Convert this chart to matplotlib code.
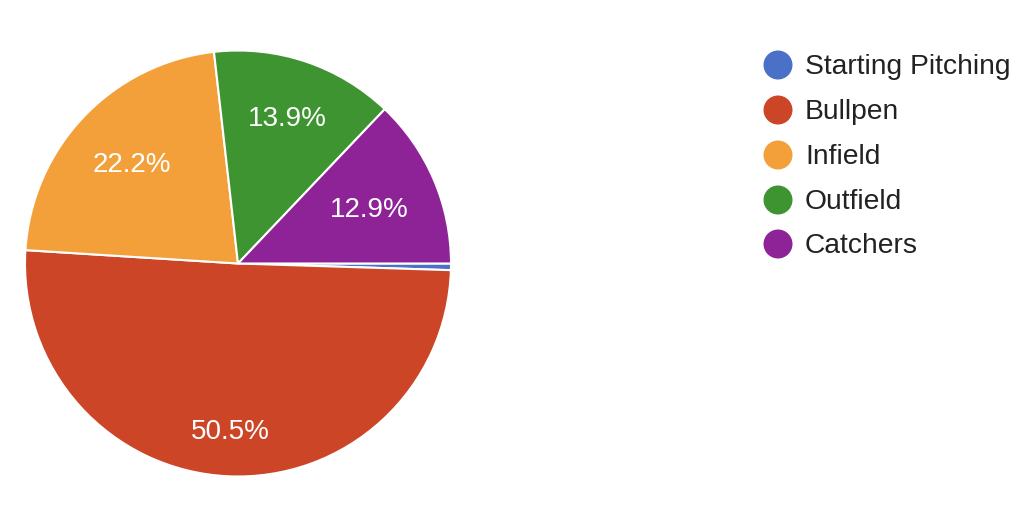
import matplotlib
matplotlib.use("Agg")
import matplotlib.pyplot as plt
import numpy as np

plt.rcParams["font.family"] = ["Liberation Sans", "DejaVu Sans"]

CATEGORIES = ["Starting Pitching", "Bullpen", "Infield", "Outfield", "Catchers"]
SHARES = [0.5, 50.5, 22.2, 13.9, 12.9]
COLORS = ["#4a70c8", "#cc4527", "#f3a03a", "#3f9432", "#8e2297"]

W, H = 1024, 507
fig = plt.figure(figsize=(W / 100, H / 100), dpi=100)

# pie axes, placed in pixel terms (center ~ (238, 264), radius ~213)
ax = fig.add_axes([25 / W, 30 / H, 426 / W, 427 / H])
ax.set_aspect("equal")


def pct_label(p):
    return "" if p < 1 else f"{p:.1f}%"


wedges = ax.pie(SHARES, colors=COLORS, startangle=0, counterclock=False,
                radius=1.0, wedgeprops=dict(edgecolor="white", linewidth=1.5))[0]
# percentage labels placed at wedge mid-angle
dists = [0.75, 0.78, 0.69, 0.73, 0.67]
for w, p, d in zip(wedges, SHARES, dists):
    lbl = pct_label(p)
    if not lbl:
        continue
    mid = np.deg2rad((w.theta1 + w.theta2) / 2)
    ax.text(d * np.cos(mid), d * np.sin(mid) - 0.014, lbl, color="white", fontsize=20,
            ha="center", va="center")
ax.set_xlim(-1.0, 1.0)
ax.set_ylim(-1.0, 1.0)
ax.axis("off")

# legend drawn by hand in pixel coordinates
lax = fig.add_axes([0, 0, 1, 1])
lax.set_xlim(0, W)
lax.set_ylim(H, 0)
lax.axis("off")
row_y = [65, 110, 155, 200, 244]
for name, col, y in zip(CATEGORIES, COLORS, row_y):
    lax.scatter([778], [y], s=(29 * 0.72) ** 2, color=col, edgecolors="none")
    lax.text(805, y + 2, name, fontsize=20.3, color="#222222", ha="left", va="center")

fig.savefig("out.png", dpi=100)
